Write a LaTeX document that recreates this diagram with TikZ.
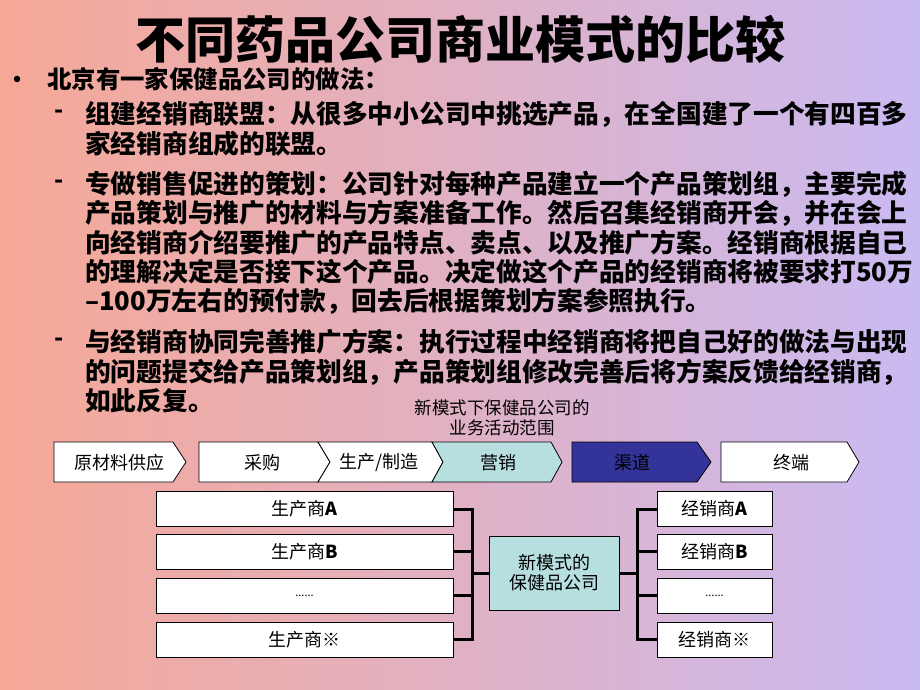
\documentclass[tikz,border=0pt]{standalone}
\usepackage{fontspec}
\setmainfont{Noto Sans CJK SC}
\usetikzlibrary{calc}
\definecolor{bgL}{RGB}{246,168,150}
\definecolor{bgM}{RGB}{230,180,205}
\definecolor{bgR}{RGB}{202,186,242}
\definecolor{tealfill}{RGB}{184,223,224}
\definecolor{navyfill}{RGB}{51,51,153}
\begin{document}
\begin{tikzpicture}[x=1pt,y=-1pt,
  titletext/.style={font=\fontsize{50}{55}\selectfont\bfseries, inner sep=0},
  lvone/.style={font=\fontsize{24.4}{28}\selectfont\bfseries, anchor=west, inner sep=0},
  lvtwo/.style={font=\fontsize{25.7}{29}\selectfont\bfseries, anchor=west, inner sep=0},
  dashsym/.style={font=\fontsize{24}{28}\selectfont\bfseries, inner sep=0},
  procshape/.style={draw=black, line width=0.8pt},
  ptext/.style={font=\fontsize{18}{21}\selectfont, inner sep=0},
  obox/.style={draw=black, fill=white, line width=0.8pt, font=\fontsize{18}{20}\selectfont, inner sep=0, minimum height=35pt},
  conn/.style={line width=3pt}
]
\shade[left color=bgL, middle color=bgM, right color=bgR] (0,0) rectangle (920,690);
\useasboundingbox (0,0) rectangle (920,690);

% title
\node[titletext] (title) at (460,39) {不同药品公司商业模式的比较};

% bullet text
\node[circle, fill=black, inner sep=0, minimum size=6.5pt] (bul) at (17,79) {};
\node[lvone] (t0) at (47,79) {北京有一家保健品公司的做法：};

\node[dashsym] (d1) at (59,114) {-};
\node[lvtwo] (t11) at (85,114) {组建经销商联盟：从很多中小公司中挑选产品，在全国建了一个有四百多};
\node[lvtwo] (t12) at (85,144) {家经销商组成的联盟。};

\node[dashsym] (d2) at (59,184) {-};
\node[lvtwo] (t21) at (85,184) {专做销售促进的策划：公司针对每种产品建立一个产品策划组，主要完成};
\node[lvtwo] (t22) at (85,213) {产品策划与推广的材料与方案准备工作。然后召集经销商开会，并在会上};
\node[lvtwo] (t23) at (85,243) {向经销商介绍要推广的产品特点、卖点、以及推广方案。经销商根据自己};
\node[lvtwo] (t24) at (85,272) {的理解决定是否接下这个产品。决定做这个产品的经销商将被要求打50万};
\node[lvtwo] (t25) at (85,301) {‒100万左右的预付款，回去后根据策划方案参照执行。};

\node[dashsym] (d3) at (59,342) {-};
\node[lvtwo] (t31) at (85,342) {与经销商协同完善推广方案：执行过程中经销商将把自己好的做法与出现};
\node[lvtwo] (t32) at (85,372) {的问题提交给产品策划组，产品策划组修改完善后将方案反馈给经销商，};
\node[lvtwo] (t33) at (85,401) {如此反复。};

% caption
\node[font=\fontsize{17.5}{20}\selectfont, align=center, inner sep=0] (cap) at (502,418) {新模式下保健品公司的\\业务活动范围};

% process chain
\draw[procshape, fill=white] (54,442) -- (173,442) -- (186,462) -- (173,482) -- (54,482) -- cycle;
\draw[procshape, fill=white] (199,442) -- (318,442) -- (330,462) -- (318,482) -- (199,482) -- cycle;
\draw[procshape, fill=white] (318,442) -- (432,442) -- (443,462) -- (432,482) -- (318,482) -- (330,462) -- cycle;
\draw[procshape, fill=tealfill] (432,442) -- (551,442) -- (562,462) -- (551,482) -- (432,482) -- (443,462) -- cycle;
\draw[procshape, fill=navyfill] (572,442) -- (697,442) -- (711,462) -- (697,482) -- (572,482) -- cycle;
\draw[procshape, fill=white] (721,442) -- (847,442) -- (859,462) -- (847,482) -- (721,482) -- cycle;

\node[ptext] (s1) at (119,463) {原材料供应};
\node[ptext] (s2) at (262,463) {采购};
\node[ptext] (s3) at (379,463) {生产/制造};
\node[ptext] (s4) at (498,463) {营销};
\node[ptext] (s5) at (632,463) {渠道};
\node[ptext] (s6) at (791,463) {终端};

% org chart
\node[obox, minimum width=297pt] (pA) at (304.5,509) {生产商\textbf{A}};
\node[obox, minimum width=297pt] (pB) at (304.5,551.5) {生产商\textbf{B}};
\node[obox, minimum width=297pt] (pD) at (304.5,595.5) {\fontsize{11}{12}\selectfont ......};
\node[obox, minimum width=297pt] (pX) at (304.5,639.5) {生产商※};

\node[obox, minimum width=115pt] (rA) at (714.5,509) {经销商\textbf{A}};
\node[obox, minimum width=115pt] (rB) at (714.5,551.5) {经销商\textbf{B}};
\node[obox, minimum width=115pt] (rD) at (714.5,595.5) {\fontsize{11}{12}\selectfont ......};
\node[obox, minimum width=115pt] (rX) at (714.5,639.5) {经销商※};

\node[obox, fill=tealfill, minimum width=130pt, minimum height=74pt, align=center] (hub) at (554,573) {新模式的\\保健品公司};

\coordinate (jl) at (472,573);
\coordinate (jr) at (637,573);

\draw[conn] (pA.east) -| (jl);
\draw[conn] (pX.east) -| (jl);
\draw[conn] (pB.east) -- (pB.east -| jl);
\draw[conn] (pD.east) -- (pD.east -| jl);
\draw[conn] (jl) -- (hub.west);

\draw[conn] (rA.west) -| (jr);
\draw[conn] (rX.west) -| (jr);
\draw[conn] (rB.west) -- (rB.west -| jr);
\draw[conn] (rD.west) -- (rD.west -| jr);
\draw[conn] (jr) -- (hub.east);
\end{tikzpicture}
\end{document}
